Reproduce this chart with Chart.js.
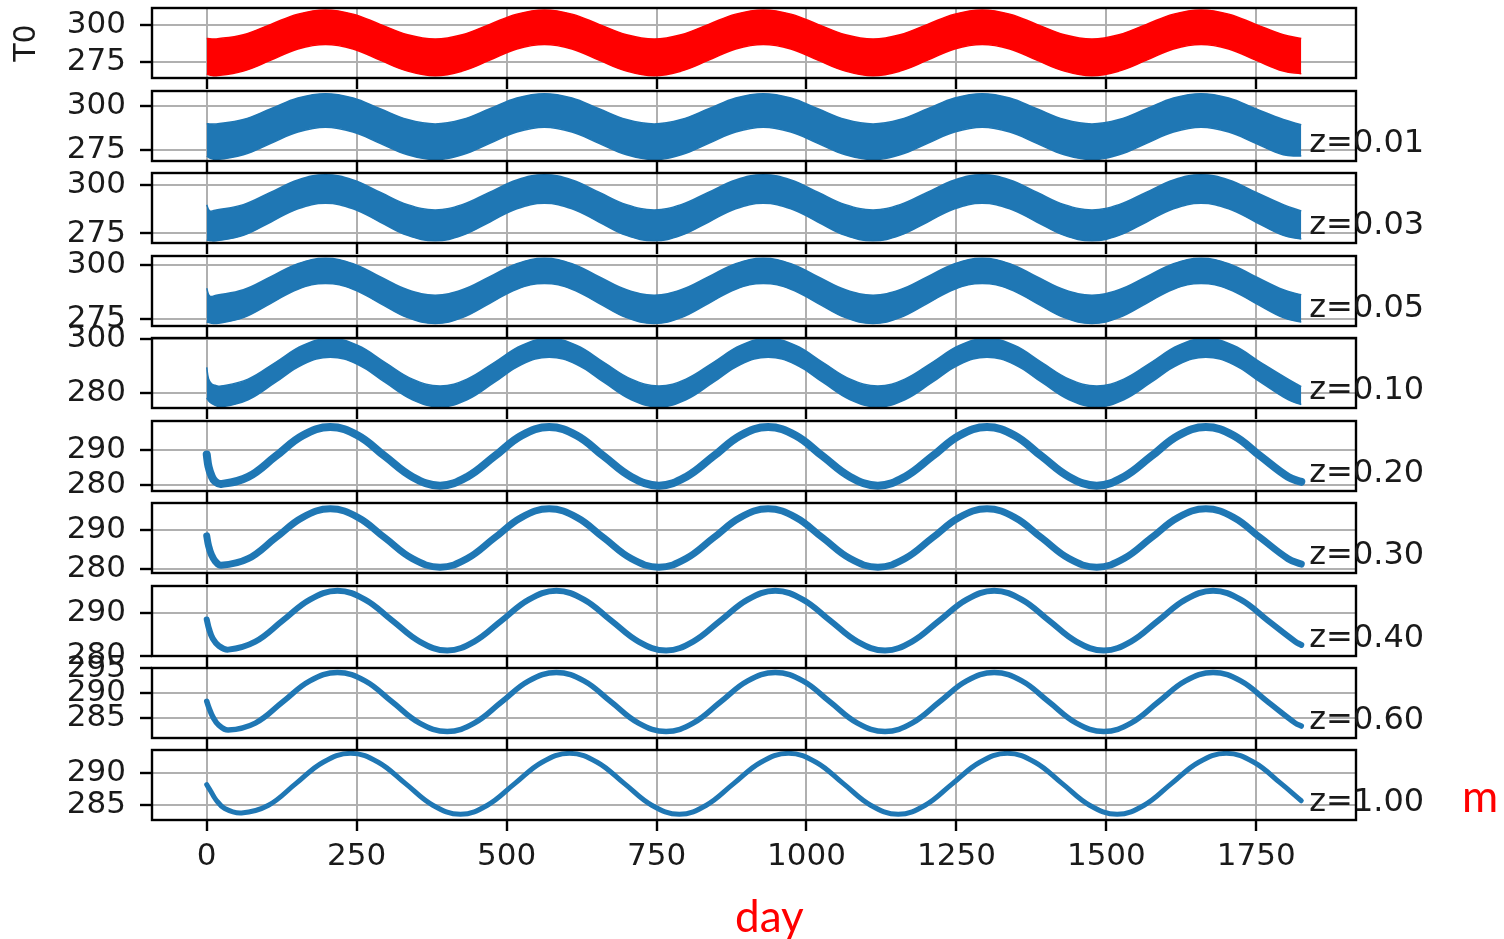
<!DOCTYPE html>
<html>
<head>
<meta charset="utf-8">
<script src="https://cdn.jsdelivr.net/npm/chart.js@4.4.1/dist/chart.umd.min.js"></script>
<style>
  body { margin: 0; background: #fff; width: 1504px; height: 939px; overflow: hidden; position: relative; }
</style>
</head>
<body>
<script>
// ---------------- data ----------------
// x axis: day
const xTicks = [0, 250, 500, 750, 1000, 1250, 1500, 1750];

// sample days, one list per group of curves that peak around the same day
const daysA = [0, 5, 16, 61, 107, 152, 198, 244, 289, 335, 381, 426, 472, 517, 563, 609, 654, 700, 746, 791, 837, 882, 928, 974, 1019, 1065, 1111, 1156, 1202, 1247, 1293, 1339, 1384, 1430, 1476, 1521, 1567, 1612, 1658, 1704, 1749, 1795, 1825];
const daysB = [0, 3, 8, 14, 24, 69, 115, 160, 206, 252, 297, 343, 389, 434, 480, 525, 571, 617, 662, 708, 754, 799, 845, 890, 936, 982, 1027, 1073, 1119, 1164, 1210, 1255, 1301, 1347, 1392, 1438, 1484, 1529, 1575, 1620, 1666, 1712, 1757, 1803, 1825];
const daysC = [0, 4, 10, 20, 36, 81, 127, 172, 218, 264, 309, 355, 401, 446, 492, 537, 583, 629, 674, 720, 766, 811, 857, 902, 948, 994, 1039, 1085, 1131, 1176, 1222, 1267, 1313, 1359, 1404, 1450, 1496, 1541, 1587, 1632, 1678, 1724, 1769, 1815, 1825];
const daysD = [0, 6, 15, 30, 58, 103, 149, 194, 240, 286, 331, 377, 423, 468, 514, 559, 605, 651, 696, 742, 788, 833, 879, 924, 970, 1016, 1061, 1107, 1153, 1198, 1244, 1289, 1335, 1381, 1426, 1472, 1518, 1563, 1609, 1654, 1700, 1746, 1791, 1825];

// T0 (surface): upper / lower edge of the daily band
const t0Upper = [290.9, 290.7,
  290.6, 293.4, 300.3, 307.1, 309.9, 307.1, 300.3, 293.4,
  290.6, 293.4, 300.3, 307.1, 309.9, 307.1, 300.3, 293.4,
  290.6, 293.4, 300.3, 307.1, 309.9, 307.1, 300.3, 293.4,
  290.6, 293.4, 300.3, 307.1, 309.9, 307.1, 300.3, 293.4,
  290.6, 293.4, 300.3, 307.1, 309.9, 307.1, 300.3, 293.4,
  290.9];
const t0Lower = [267.3, 266.5,
  266.0, 269.1, 276.4, 283.8, 286.8, 283.8, 276.4, 269.1,
  266.0, 269.1, 276.4, 283.8, 286.8, 283.8, 276.4, 269.1,
  266.0, 269.1, 276.4, 283.8, 286.8, 283.8, 276.4, 269.1,
  266.0, 269.1, 276.4, 283.8, 286.8, 283.8, 276.4, 269.1,
  266.0, 269.1, 276.4, 283.8, 286.8, 283.8, 276.4, 269.1,
  267.3];

// z=0.01
const z001Upper = [289.8, 289.7,
  289.7, 292.2, 298.3, 304.4, 306.9, 304.4, 298.3, 292.2,
  289.7, 292.2, 298.3, 304.4, 306.9, 304.4, 298.3, 292.2,
  289.7, 292.2, 298.3, 304.4, 306.9, 304.4, 298.3, 292.2,
  289.7, 292.2, 298.3, 304.4, 306.9, 304.4, 298.3, 292.2,
  289.7, 292.2, 298.3, 304.4, 306.9, 304.4, 298.3, 292.2,
  289.3];
const z001Lower = [271.5, 270.4,
  269.5, 272.2, 278.7, 285.1, 287.8, 285.1, 278.7, 272.2,
  269.5, 272.2, 278.7, 285.1, 287.8, 285.1, 278.7, 272.2,
  269.5, 272.2, 278.7, 285.1, 287.8, 285.1, 278.7, 272.2,
  269.5, 272.2, 278.7, 285.1, 287.8, 285.1, 278.7, 272.2,
  269.5, 272.2, 278.7, 285.1, 287.8, 285.1, 278.7, 272.2,
  271.5];

// z=0.03
const z003Upper = [289.7, 286.6,
  287.1, 289.8, 296.2, 302.5, 305.2, 302.5, 296.2, 289.8,
  287.1, 289.8, 296.2, 302.5, 305.2, 302.5, 296.2, 289.8,
  287.1, 289.8, 296.2, 302.5, 305.2, 302.5, 296.2, 289.8,
  287.1, 289.8, 296.2, 302.5, 305.2, 302.5, 296.2, 289.8,
  287.1, 289.8, 296.2, 302.5, 305.2, 302.5, 296.2, 289.8,
  286.5];
const z003Lower = [271.6, 271.3,
  271.2, 274.0, 280.9, 287.7, 290.5, 287.7, 280.9, 274.0,
  271.2, 274.0, 280.9, 287.7, 290.5, 287.7, 280.9, 274.0,
  271.2, 274.0, 280.9, 287.7, 290.5, 287.7, 280.9, 274.0,
  271.2, 274.0, 280.9, 287.7, 290.5, 287.7, 280.9, 274.0,
  271.2, 274.0, 280.9, 287.7, 290.5, 287.7, 280.9, 274.0,
  272.2];

// z=0.05
const z005Upper = [289.1, 285.5,
  285.9, 288.4, 294.5, 300.6, 303.1, 300.6, 294.5, 288.4,
  285.9, 288.4, 294.5, 300.6, 303.1, 300.6, 294.5, 288.4,
  285.9, 288.4, 294.5, 300.6, 303.1, 300.6, 294.5, 288.4,
  285.9, 288.4, 294.5, 300.6, 303.1, 300.6, 294.5, 288.4,
  285.9, 288.4, 294.5, 300.6, 303.1, 300.6, 294.5, 288.4,
  286.1];
const z005Lower = [273.4, 273.0,
  272.7, 275.4, 282.1, 288.7, 291.4, 288.7, 282.1, 275.4,
  272.7, 275.4, 282.1, 288.7, 291.4, 288.7, 282.1, 275.4,
  272.7, 275.4, 282.1, 288.7, 291.4, 288.7, 282.1, 275.4,
  272.7, 275.4, 282.1, 288.7, 291.4, 288.7, 282.1, 275.4,
  272.7, 275.4, 282.1, 288.7, 291.4, 288.7, 282.1, 275.4,
  273.3];

// z=0.10
const z010Upper = [289.5, 285.3, 283.4, 282.8,
  282.5, 285.1, 291.4, 297.7, 300.3, 297.7, 291.4, 285.1,
  282.5, 285.1, 291.4, 297.7, 300.3, 297.7, 291.4, 285.1,
  282.5, 285.1, 291.4, 297.7, 300.3, 297.7, 291.4, 285.1,
  282.5, 285.1, 291.4, 297.7, 300.3, 297.7, 291.4, 285.1,
  282.5, 285.1, 291.4, 297.7, 300.3, 297.7, 291.4, 285.1,
  282.3];
const z010Lower = [278.1, 277.0, 276.0, 275.3,
  274.7, 277.4, 284.0, 290.6, 293.3, 290.6, 284.0, 277.4,
  274.7, 277.4, 284.0, 290.6, 293.3, 290.6, 284.0, 277.4,
  274.7, 277.4, 284.0, 290.6, 293.3, 290.6, 284.0, 277.4,
  274.7, 277.4, 284.0, 290.6, 293.3, 290.6, 284.0, 277.4,
  274.7, 277.4, 284.0, 290.6, 293.3, 290.6, 284.0, 277.4,
  275.6];

// deeper layers: single curve
const z020 = [288.7, 285.2, 282.6, 281.0,
  280.3, 282.3, 288.2, 294.1, 296.5, 294.1, 288.2, 282.3,
  279.8, 282.3, 288.2, 294.1, 296.5, 294.1, 288.2, 282.3,
  279.8, 282.3, 288.2, 294.1, 296.5, 294.1, 288.2, 282.3,
  279.8, 282.3, 288.2, 294.1, 296.5, 294.1, 288.2, 282.3,
  279.8, 282.3, 288.2, 294.1, 296.5, 294.1, 288.2, 282.3,
  280.9];
const z030 = [288.5, 286.0, 283.6, 282.0,
  280.9, 282.6, 288.0, 293.3, 295.5, 293.3, 288.0, 282.6,
  280.4, 282.6, 288.0, 293.3, 295.5, 293.3, 288.0, 282.6,
  280.4, 282.6, 288.0, 293.3, 295.5, 293.3, 288.0, 282.6,
  280.4, 282.6, 288.0, 293.3, 295.5, 293.3, 288.0, 282.6,
  280.4, 282.6, 288.0, 293.3, 295.5, 293.3, 288.0, 282.6,
  281.2];
const z040 = [288.5, 286.2, 284.0, 282.3,
  281.4, 283.3, 288.3, 293.2, 295.3, 293.2, 288.3, 283.3,
  281.2, 283.3, 288.3, 293.2, 295.3, 293.2, 288.3, 283.3,
  281.2, 283.3, 288.3, 293.2, 295.3, 293.2, 288.3, 283.3,
  281.2, 283.3, 288.3, 293.2, 295.3, 293.2, 288.3, 283.3,
  281.2, 283.3, 288.3, 293.2, 295.3, 293.2, 288.3, 283.3,
  282.5];
const z060 = [288.4, 287.0, 285.3, 283.6,
  282.6, 284.0, 288.3, 292.5, 294.2, 292.5, 288.3, 284.0,
  282.3, 284.0, 288.3, 292.5, 294.2, 292.5, 288.3, 284.0,
  282.3, 284.0, 288.3, 292.5, 294.2, 292.5, 288.3, 284.0,
  282.3, 284.0, 288.3, 292.5, 294.2, 292.5, 288.3, 284.0,
  282.3, 284.0, 288.3, 292.5, 294.2, 292.5, 288.3, 284.0,
  283.4];
const z100 = [288.2, 287.3, 285.9, 284.5,
  283.8, 285.0, 288.4, 291.7, 293.1, 291.7, 288.4, 285.0,
  283.6, 285.0, 288.4, 291.7, 293.1, 291.7, 288.4, 285.0,
  283.6, 285.0, 288.4, 291.7, 293.1, 291.7, 288.4, 285.0,
  283.6, 285.0, 288.4, 291.7, 293.1, 291.7, 288.4, 285.0,
  283.6, 285.0, 288.4, 291.7, 293.1, 291.7, 288.4,
  285.7];

// y ticks per panel
const yTicks = [[275, 300], [275, 300], [275, 300], [275, 300], [280, 300],
                [280, 290], [280, 290], [280, 290], [285, 290, 295], [285, 290]];
const zLabels = ['', 'z=0.01', 'z=0.03', 'z=0.05', 'z=0.10', 'z=0.20', 'z=0.30', 'z=0.40', 'z=0.60', 'z=1.00'];

// ---------------- layout / style ----------------
const RED = '#ff0000';
const BLUE = '#1f77b4';
const panelTops = [8, 91, 173, 256, 338, 421, 503, 586, 668, 750];
const PANEL_H = 70;
const AXIS_LEFT = 152, AXIS_RIGHT = 1356;
const yLimits = [[264.5, 311.2], [268.7, 308.4], [270.1, 306.05], [271.5, 304.2], [274.3, 300.5],
                 [278.3, 298.2], [278.9, 297.0], [279.9, 296.4], [281.0, 295.1], [282.7, 293.6]];

const panels = [
  { days: daysA, upper: t0Upper, lower: t0Lower, color: RED },
  { days: daysA, upper: z001Upper, lower: z001Lower, color: BLUE },
  { days: daysA, upper: z003Upper, lower: z003Lower, color: BLUE },
  { days: daysA, upper: z005Upper, lower: z005Lower, color: BLUE },
  { days: daysB, upper: z010Upper, lower: z010Lower, color: BLUE },
  { days: daysB, line: z020, width: 8, color: BLUE },
  { days: daysB, line: z030, width: 7, color: BLUE },
  { days: daysC, line: z040, width: 6, color: BLUE },
  { days: daysC, line: z060, width: 5.5, color: BLUE },
  { days: daysD, line: z100, width: 5, color: BLUE }
];

const tickFont = { family: 'DejaVu Sans', size: 31 };

// box around each axes + the side labels
const framePlugin = {
  id: 'frame',
  afterDraw(chart, args, opts) {
    const ctx = chart.ctx, a = chart.chartArea;
    ctx.save();
    ctx.strokeStyle = '#000';
    ctx.lineWidth = 2.4;
    ctx.strokeRect(a.left, a.top, a.right - a.left, a.bottom - a.top);
    if (opts.label) {
      ctx.font = '32px "DejaVu Sans"';
      ctx.fillStyle = '#1a1a1a';
      ctx.textBaseline = 'alphabetic';
      ctx.fillText(opts.label, chart.scales.x.getPixelForValue(1825) + 8, a.bottom - 9);
    }
    (opts.extra || []).forEach(t => {
      ctx.font = t.font;
      ctx.fillStyle = t.color;
      ctx.fillText(t.text, t.x, t.y);
    });
    ctx.restore();
  }
};

const pts = (days, vals) => days.map((d, i) => ({ x: d, y: vals[i] }));

panels.forEach((p, i) => {
  const last = i === panels.length - 1;
  const padT = 20;
  const padB = last ? 939 - (panelTops[i] + PANEL_H) : 20;
  const cvTop = panelTops[i] - padT;

  const cv = document.createElement('canvas');
  cv.width = 1504;
  cv.height = padT + PANEL_H + padB;
  cv.style.position = 'absolute';
  cv.style.left = '0px';
  cv.style.top = cvTop + 'px';
  document.body.appendChild(cv);

  let datasets;
  if (p.line) {
    datasets = [{
      data: pts(p.days, p.line), borderColor: p.color, borderWidth: p.width,
      fill: false, borderCapStyle: 'round', borderJoinStyle: 'round'
    }];
  } else {
    datasets = [
      { data: pts(p.days, p.lower), borderColor: p.color, borderWidth: 1.5, fill: false },
      { data: pts(p.days, p.upper), borderColor: p.color, borderWidth: 1.5, fill: '-1', backgroundColor: p.color }
    ];
  }

  const extra = last ? [
    { text: 'day', x: 735, y: 932 - cvTop, font: '44px Lato', color: RED },
    { text: 'm', x: 1462, y: 812 - cvTop, font: '44px Lato', color: RED }
  ] : [];

  new Chart(cv, {
    type: 'line',
    data: { datasets },
    options: {
      responsive: false,
      animation: false,
      events: [],
      layout: { padding: { left: 0, right: 1504 - AXIS_RIGHT, top: padT, bottom: 0 } },
      elements: { point: { radius: 0 }, line: { tension: 0.4 } },
      plugins: {
        legend: { display: false },
        tooltip: { enabled: false },
        frame: { label: zLabels[i], extra: extra }
      },
      scales: {
        x: {
          type: 'linear', min: -91.25, max: 1916.25,
          afterBuildTicks: s => { s.ticks = xTicks.map(v => ({ value: v })); },
          afterFit: s => { s.height = padB; s.paddingLeft = 0; s.paddingRight = 0; },
          grid: { color: '#b0b0b0', lineWidth: 2, tickLength: 11, tickColor: '#000', tickWidth: 2.4 },
          border: { display: false },
          ticks: { display: last, font: { family: 'DejaVu Sans', size: 31 }, color: '#1a1a1a', padding: 7,
                   maxRotation: 0, autoSkip: false, callback: v => String(v) }
        },
        y: {
          type: 'linear', min: yLimits[i][0], max: yLimits[i][1],
          afterBuildTicks: s => { s.ticks = yTicks[i].map(v => ({ value: v })); },
          afterFit: s => { s.width = AXIS_LEFT; s.paddingTop = 0; s.paddingBottom = 0; },
          grid: { color: '#b0b0b0', lineWidth: 2, tickLength: 12, tickColor: '#000', tickWidth: 2.4 },
          border: { display: false },
          ticks: { font: tickFont, color: '#1a1a1a', padding: 14, autoSkip: false, callback: v => String(v) },
          title: { display: i === 0, text: 'T0', font: { family: 'DejaVu Sans', size: 30 }, color: '#1a1a1a', padding: { top: 9, bottom: 0 } }
        }
      }
    },
    plugins: [framePlugin]
  });
});
</script>
</body>
</html>
